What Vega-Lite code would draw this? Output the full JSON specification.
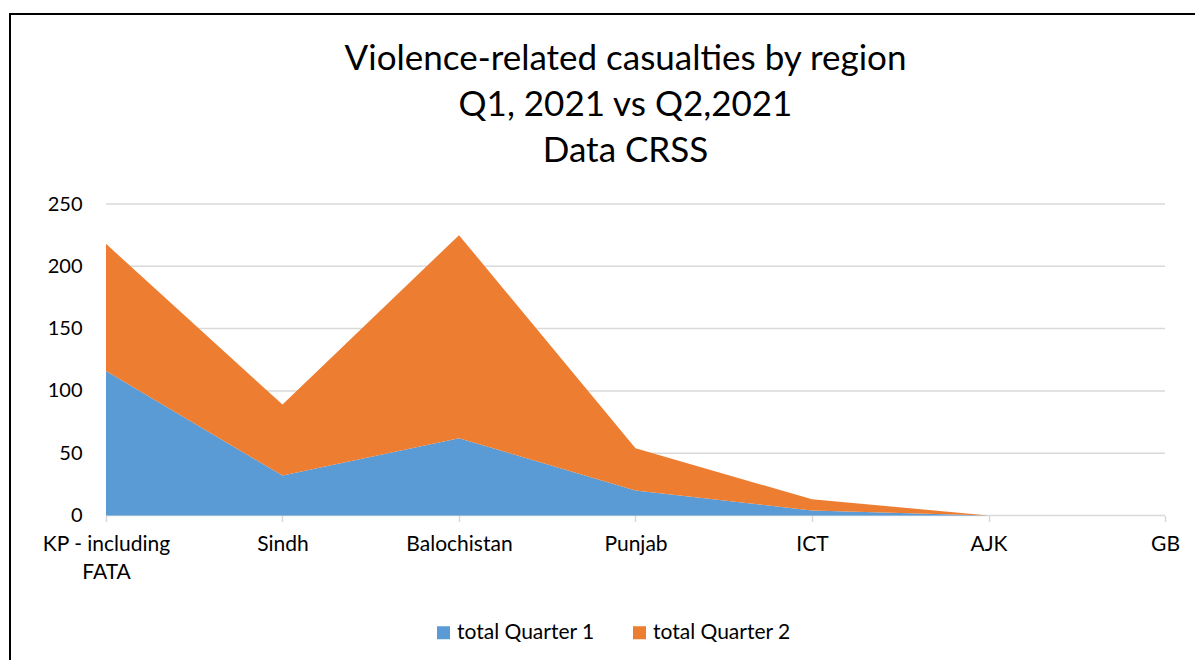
{
  "$schema": "https://vega.github.io/schema/vega-lite/v6.json",
  "width": 1187,
  "height": 648,
  "autosize": {"type": "none"},
  "padding": {"left": 10, "top": 14, "right": -2, "bottom": -2},
  "background": "white",
  "title": {
    "text": ["Violence-related casualties by region", "Q1, 2021 vs Q2,2021", "Data CRSS"],
    "font": "Lato",
    "fontSize": 35,
    "fontWeight": "normal",
    "color": "black",
    "lineHeight": 46,
    "anchor": "middle",
    "frame": "group",
    "baseline": "alphabetic",
    "offset": -183,
    "dx": 22
  },
  "config": {
    "view": {"stroke": "black", "strokeWidth": 2},
    "axis": {"labelFont": "Lato", "labelFontSize": 20, "labelColor": "black"}
  },
  "datasets": {
    "casualties": [
      {"region": "KP - including FATA", "series": "total Quarter 1", "value": 116},
      {"region": "Sindh", "series": "total Quarter 1", "value": 32},
      {"region": "Balochistan", "series": "total Quarter 1", "value": 62},
      {"region": "Punjab", "series": "total Quarter 1", "value": 20},
      {"region": "ICT", "series": "total Quarter 1", "value": 4},
      {"region": "AJK", "series": "total Quarter 1", "value": 0},
      {"region": "GB", "series": "total Quarter 1", "value": null},
      {"region": "KP - including FATA", "series": "total Quarter 2", "value": 102},
      {"region": "Sindh", "series": "total Quarter 2", "value": 57},
      {"region": "Balochistan", "series": "total Quarter 2", "value": 163},
      {"region": "Punjab", "series": "total Quarter 2", "value": 34},
      {"region": "ICT", "series": "total Quarter 2", "value": 9},
      {"region": "AJK", "series": "total Quarter 2", "value": 0},
      {"region": "GB", "series": "total Quarter 2", "value": null}
    ],
    "grid": [
      {"level": 0, "from": "KP - including FATA", "to": "GB"},
      {"level": 50, "from": "KP - including FATA", "to": "GB"},
      {"level": 100, "from": "KP - including FATA", "to": "GB"},
      {"level": 150, "from": "KP - including FATA", "to": "GB"},
      {"level": 200, "from": "KP - including FATA", "to": "GB"},
      {"level": 250, "from": "KP - including FATA", "to": "GB"}
    ]
  },
  "layer": [
    {
      "data": {"name": "grid"},
      "mark": {"type": "rule", "color": "#D9D9D9", "strokeWidth": 1.5},
      "encoding": {
        "x": {"field": "from", "type": "nominal", "title": null},
        "x2": {"field": "to"},
        "y": {"field": "level", "type": "quantitative", "title": null}
      }
    },
    {
      "data": {"name": "casualties"},
      "mark": {"type": "area", "opacity": 1, "interpolate": "linear"},
      "encoding": {
        "x": {
          "field": "region",
          "type": "nominal",
          "title": null,
          "scale": {
            "type": "point",
            "domain": ["KP - including FATA", "Sindh", "Balochistan", "Punjab", "ICT", "AJK", "GB"],
            "padding": 0.3626,
            "align": 0.75
          },
          "axis": {
            "orient": "bottom",
            "offset": -146.5,
            "domain": false,
            "grid": false,
            "ticks": true,
            "tickSize": 6,
            "tickColor": "#D9D9D9",
            "tickWidth": 1.5,
            "labelAngle": 0,
            "labelFontSize": 21,
            "labelPadding": 23,
            "labelLineHeight": 28,
            "labelAlign": "center",
            "labelExpr": "datum.value == 'KP - including FATA' ? ['KP - including', 'FATA'] : datum.label"
          }
        },
        "y": {
          "field": "value",
          "type": "quantitative",
          "stack": "zero",
          "title": null,
          "scale": {"domain": [-117.6, 402.5], "nice": false, "zero": false},
          "axis": {
            "orient": "left",
            "offset": -96,
            "values": [0, 50, 100, 150, 200, 250],
            "domain": false,
            "grid": false,
            "ticks": false,
            "tickSize": 0,
            "labelPadding": 24
          }
        },
        "color": {
          "field": "series",
          "type": "nominal",
          "scale": {"domain": ["total Quarter 1", "total Quarter 2"], "range": ["#5B9BD5", "#ED7D31"]},
          "legend": {
            "orient": "none",
            "legendX": 423,
            "legendY": 608,
            "direction": "horizontal",
            "title": null,
            "symbolType": "square",
            "symbolSize": 169,
            "symbolStrokeWidth": 0,
            "labelFont": "Lato",
            "labelFontSize": 21,
            "labelColor": "black",
            "labelOffset": 3,
            "columnPadding": 34
          }
        },
        "order": {"field": "series", "type": "nominal", "sort": "ascending"}
      }
    }
  ]
}
